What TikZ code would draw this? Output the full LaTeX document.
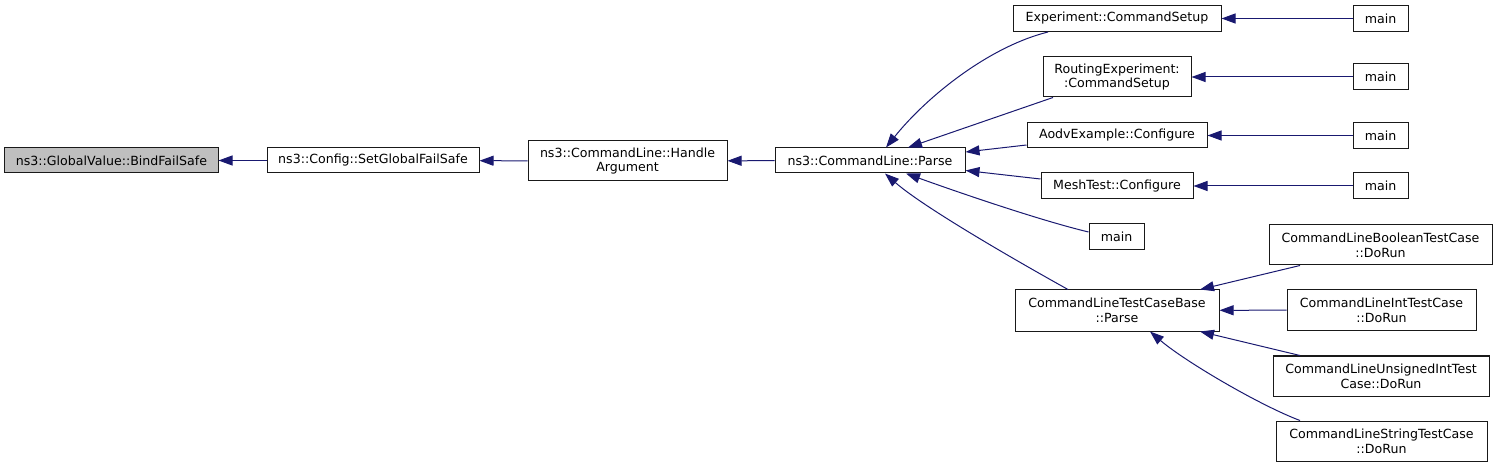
\documentclass[tikz,border=0pt]{standalone}
\usepackage{fontspec}
\usepackage{tikz}
\usetikzlibrary{arrows.meta}
\newfontfamily\doxfont{DejaVu Sans}
\definecolor{midnightblue}{RGB}{25,25,112}
\tikzset{
  fn/.style={draw=black!90, line width=1bp, fill=white, inner sep=0pt, align=center,
    minimum height=25bp, font=\doxfont\fontsize{12.6bp}{14.7bp}\selectfont},
  fntwo/.style={fn, minimum height=40bp},
  call/.style={draw=midnightblue, line width=1bp}
}
\begin{document}
\begin{tikzpicture}[x=1bp, y=-1bp, >={Triangle[length=14bp,width=10bp]},
    every edge/.style={call}]
    \useasboundingbox (0,0) rectangle (1499,467);
    \node[fn, fill=black!25, minimum width=213bp] (bind)   at (111.5,160.5) {ns3::GlobalValue::BindFailSafe};
    \node[fn, minimum width=212bp]                (setfs)  at (373,160.5)   {ns3::Config::SetGlobalFailSafe};
    \node[fntwo, minimum width=199bp]             (handle) at (627.5,161)   {ns3::CommandLine::Handle\\Argument};
    \node[fn, minimum width=190bp]                (parse)  at (870,160.5)   {ns3::CommandLine::Parse};

    \node[fn, minimum width=208bp, minimum height=26bp] (expsetup)  at (1117,18.5)  {Experiment::CommandSetup};
    \node[fntwo, minimum width=148bp]                   (routsetup) at (1117,77)    {RoutingExperiment:\\:CommandSetup};
    \node[fn, minimum width=180bp]                      (aodvconf)  at (1117,135.5) {AodvExample::Configure};
    \node[fn, minimum width=152bp, minimum height=26bp] (meshconf)  at (1117,186)   {MeshTest::Configure};
    \node[fn, minimum width=55bp, minimum height=26bp]  (mainparse) at (1116.5,237) {main};
    \node[fntwo, minimum width=204bp, minimum height=41bp] (tcbparse) at (1117,310.5) {CommandLineTestCaseBase\\::Parse};

    \foreach \i/\y in {1/18.5,2/77,3/135.5,4/186}
      {\node[fn, minimum width=55bp, minimum height=26bp] (main\i) at (1380.5,\y) {main};}

    \node[fntwo, minimum width=223bp] (booldorun) at (1380.5,245) {CommandLineBooleanTestCase\\::DoRun};
    \node[fntwo, minimum width=189bp] (intdorun)  at (1381.5,310) {CommandLineIntTestCase\\::DoRun};
    \node[fntwo, minimum width=216bp] (uintdorun) at (1381,376)   {CommandLineUnsignedIntTest\\Case::DoRun};
    \node[fntwo, minimum width=211bp] (strdorun)  at (1381.5,441) {CommandLineStringTestCase\\::DoRun};

    \path (bind)                         edge[<-] (setfs)
          (setfs)                        edge[<-] (handle)
          (handle)                       edge[<-] (parse)
          ([xshift=38bp]parse.north)     edge[<-] ([xshift=-64bp]routsetup.south)
          ([yshift=8.5bp]parse.east)     edge[<-] ([yshift=-9.5bp]aodvconf.west)
          ([yshift=-10bp]parse.east)     edge[<-] ([yshift=7bp]meshconf.west)
          ([xshift=83bp]tcbparse.north)  edge[<-] ([xshift=-80.5bp]booldorun.south)
          (tcbparse)                     edge[<-] (intdorun)
          ([xshift=83bp]tcbparse.south)  edge[<-] ([xshift=-81bp]uintdorun.north);

    \draw[call,<-] ([xshift=16bp]parse.north) .. controls +(40,-50) and +(-60,15) .. ([xshift=-69bp]expsetup.south);
    \draw[call,<-] ([xshift=36bp]parse.south) .. controls +(50,18) and +(-50,-12) .. ([yshift=5bp]mainparse.west);
    \draw[call,<-] ([xshift=15bp]parse.south) .. controls +(40,35) and +(-45,-25) .. ([xshift=-49bp]tcbparse.north);
    \draw[call,<-] ([xshift=33bp]tcbparse.south) .. controls +(35,30) and +(-40,-15) .. ([xshift=-81.5bp]strdorun.north);

    \foreach \a/\i in {expsetup/1,routsetup/2,aodvconf/3,meshconf/4}
      {\path (\a) edge[<-] (main\i);}
\end{tikzpicture}
\end{document}
